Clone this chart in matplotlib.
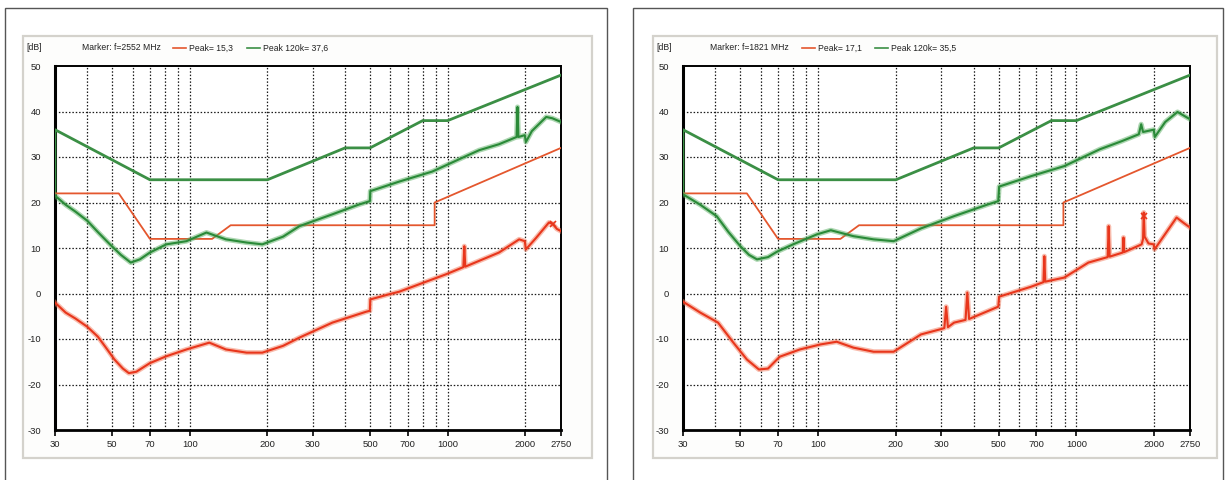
import matplotlib
matplotlib.use("Agg")
import matplotlib.pyplot as plt
from matplotlib.patches import Rectangle
from matplotlib.ticker import FixedLocator, NullLocator, FixedFormatter

plt.rcParams['font.family'] = ['Liberation Sans', 'DejaVu Sans']

# ---------------- data ----------------
x_ticks = [30, 50, 70, 100, 200, 300, 500, 700, 1000, 2000, 2750]
x_tick_labels = ["30", "50", "70", "100", "200", "300", "500", "700", "1000", "2000", "2750"]
x_grid = [40, 50, 60, 70, 80, 90, 100, 200, 300, 400, 500, 600, 700, 800, 900, 1000, 2000]
y_ticks = [-30, -20, -10, 0, 10, 20, 30, 40, 50]

# limit lines (shared by both panels)
limit120_f = [30, 30, 70, 200, 400, 500, 800, 1000, 2750]
limit120_db = [22, 36, 25, 25, 32, 32, 38, 38, 48]
limitpk_f = [30, 53, 70, 122, 144, 890, 890, 2750]
limitpk_db = [22, 22, 12, 12, 15, 15, 20, 32]

# left panel traces
left_g_f = [30, 33, 36, 40, 44, 49, 54, 59, 64, 70, 81, 97, 116, 138, 166, 191, 230, 266, 357,
            450, 499, 501, 649, 871, 1178, 1325, 1580, 1850, 1865, 1880, 1990, 2010, 2120, 2410,
            2550, 2750]
left_g_db = [21.5, 19.5, 18, 16, 13.5, 10.8, 8.5, 6.8, 7.5, 9, 10.8, 11.5, 13.4, 11.9, 11.2, 10.8,
             12.5, 14.8, 17.4, 19.5, 20.3, 22.5, 24.6, 26.8, 30.2, 31.5, 32.8, 34.4, 41, 34.4,
             34.8, 33.3, 35.7, 38.8, 38.5, 37.7]
left_r_f = [30, 33, 36, 40, 44, 47, 51, 55, 58, 62, 70, 81, 97, 119, 138, 166, 191, 230, 266, 357,
            483, 499, 501, 590, 649, 871, 983, 1150, 1160, 1170, 1580, 1893, 1990, 2010, 2200,
            2468, 2552, 2650, 2750]
left_r_db = [-2, -4.2, -5.5, -7.3, -9.5, -11.7, -14.5, -16.5, -17.5, -17.2, -15.3, -13.8, -12.3,
             -10.8, -12.3, -13, -13, -11.5, -9.7, -6.4, -4, -3.8, -1.3, -0.2, 0.4, 3.1, 4.2, 5.8,
             10.4, 5.9, 9, 11.9, 11.5, 9.7, 12.2, 15.6, 15.3, 14.2, 13.7]
left_marker = (2552, 15.3)

# right panel traces
right_g_f = [30, 35, 40.5, 45, 50, 54, 58, 64, 69.4, 80, 99, 112, 137, 164, 196, 250, 336, 450,
             498, 502, 668, 897, 1232, 1500, 1743, 1780, 1810, 1990, 2010, 2205, 2460, 2750]
right_g_db = [21.8, 19.5, 17, 13.5, 10.4, 8.5, 7.5, 8, 9.2, 10.8, 13, 13.9, 12.6, 11.9, 11.5, 14.3,
              17, 19.5, 20.3, 23.5, 25.8, 28, 31.7, 33.5, 35, 37.2, 35.5, 36, 34.4, 37.7, 39.9,
              38.3]
right_r_f = [30, 35, 41, 47, 53, 59, 64, 71, 85, 102, 118, 137, 164, 196, 250, 300, 308, 313, 318,
             336, 372, 378, 384, 498, 502, 668, 745, 751, 757, 897, 1112, 1320, 1332, 1344, 1510,
             1520, 1530, 1787, 1810, 1821, 1835, 1900, 1990, 2005, 2200, 2440, 2600, 2750]
right_r_db = [-1.8, -4.2, -6.4, -10.8, -14.5, -16.7, -16.5, -13.9, -12.3, -11.2, -10.6, -11.9,
              -12.8, -12.8, -9, -7.8, -7.6, -2.9, -7.4, -6.4, -5.8, 0.2, -5.6, -2.9, -0.7, 1.5,
              2.5, 8.2, 2.6, 3.5, 6.8, 8, 14.8, 8.1, 9, 12.3, 9.1, 10.8, 12, 17.8, 12.5, 11, 10.8,
              9.7, 13, 16.7, 15.5, 14.5]
right_marker = (1821, 17.1)

left_header = ["Marker: f=2552 MHz", "Peak= 15,3", "Peak 120k= 37,6"]
right_header = ["Marker: f=1821 MHz", "Peak= 17,1", "Peak 120k= 35,5"]

# ---------------- style ----------------
W, H = 1227, 480
GREEN = '#2a8a38'
GREEN_LIM = '#3b8f45'
RED = '#e8361c'
RED_LIM = '#e4572e'

fig = plt.figure(figsize=(W / 100, H / 100), dpi=100)
fig.patch.set_facecolor('white')


def fx(px):
    return px / W


def fy(py):
    return 1 - py / H


def rect_px(x0, y0, x1, y1, **kw):
    r = Rectangle((fx(x0), fy(y1)), fx(x1) - fx(x0), fy(y0) - fy(y1),
                  transform=fig.transFigure, zorder=-10, **kw)
    fig.patches.append(r)


def panel(ax_l, ax_r, outer, inner, header, hx, g_f, g_db, r_f, r_db, marker):
    # outer frame and inner light panel
    rect_px(*outer, fill=False, edgecolor='#555555', lw=1.0)
    rect_px(*inner, facecolor='#fdfdfc', edgecolor='#d4d2cc', lw=1.6)

    ax = fig.add_axes([fx(ax_l), fy(430), fx(ax_r) - fx(ax_l), fy(66) - fy(430)])
    ax.set_zorder(5)
    ax.set_facecolor('white')
    ax.set_xscale('log')
    ax.set_xlim(30, 2750)
    ax.set_ylim(-30, 50)

    for g in x_grid:
        ax.axvline(g, color='#1a1a1a', lw=0.9, ls=(0, (1.2, 1.5)), zorder=1)
    for yv in y_ticks[1:-1]:
        ax.axhline(yv, color='#1a1a1a', lw=0.9, ls=(0, (1.2, 1.5)), zorder=1)

    # limits
    ax.plot(limit120_f, limit120_db, color=GREEN_LIM, lw=2.0, zorder=3)
    ax.plot(limitpk_f, limitpk_db, color=RED_LIM, lw=1.3, zorder=3)

    # traces with a soft noise band
    ax.plot(g_f, g_db, color='#5aae63', lw=3.6, alpha=0.5, zorder=4, solid_joinstyle='round')
    ax.plot(g_f, g_db, color=GREEN, lw=1.5, zorder=5)
    ax.plot(r_f, r_db, color='#f27a5c', lw=3.6, alpha=0.5, zorder=4, solid_joinstyle='round')
    ax.plot(r_f, r_db, color=RED, lw=1.5, zorder=5)
    ax.plot([marker[0]], [marker[1]], marker='x', color=RED, ms=4, mew=1.2, zorder=6)

    ax.xaxis.set_major_locator(FixedLocator(x_ticks))
    ax.xaxis.set_major_formatter(FixedFormatter(x_tick_labels))
    ax.xaxis.set_minor_locator(NullLocator())
    ax.set_yticks(y_ticks)
    ax.set_yticklabels([str(v) for v in y_ticks])
    ax.tick_params(axis='x', direction='out', length=4, width=1.2, labelsize=6.8,
                   pad=3, colors='black', labelcolor='#222222')
    ax.tick_params(axis='y', direction='out', length=0, labelsize=6.8, pad=10,
                   labelcolor='#222222')
    for s in ax.spines.values():
        s.set_color('black')
        s.set_linewidth(1.4)
    ax.spines['left'].set_linewidth(2.2)
    ax.spines['bottom'].set_linewidth(2.0)

    # header texts
    ty = fy(48)
    fig.text(fx(inner[0] + 3), ty, "[dB]", fontsize=6.2, va='center', ha='left', color='#222222')
    fig.text(fx(hx[0]), ty, header[0], fontsize=6.2, va='center', ha='left', color='#222222')
    fig.lines.append(plt.Line2D([fx(hx[1]), fx(hx[1] + 13)], [ty, ty],
                                transform=fig.transFigure, color=RED_LIM, lw=1.2))
    fig.text(fx(hx[1] + 16), ty, header[1], fontsize=6.2, va='center', ha='left', color='#222222')
    fig.lines.append(plt.Line2D([fx(hx[2]), fx(hx[2] + 13)], [ty, ty],
                                transform=fig.transFigure, color=GREEN_LIM, lw=1.2))
    fig.text(fx(hx[2] + 16), ty, header[2], fontsize=6.2, va='center', ha='left', color='#222222')
    return ax


panel(55, 561, (5, 8, 607, 500), (23, 36, 592, 458), left_header, (82, 173, 247),
      left_g_f, left_g_db, left_r_f, left_r_db, left_marker)
panel(683, 1190, (633, 8, 1223, 500), (653, 36, 1217, 458), right_header, (710, 802, 875),
      right_g_f, right_g_db, right_r_f, right_r_db, right_marker)

fig.savefig("out.png", dpi=100, facecolor='white')
